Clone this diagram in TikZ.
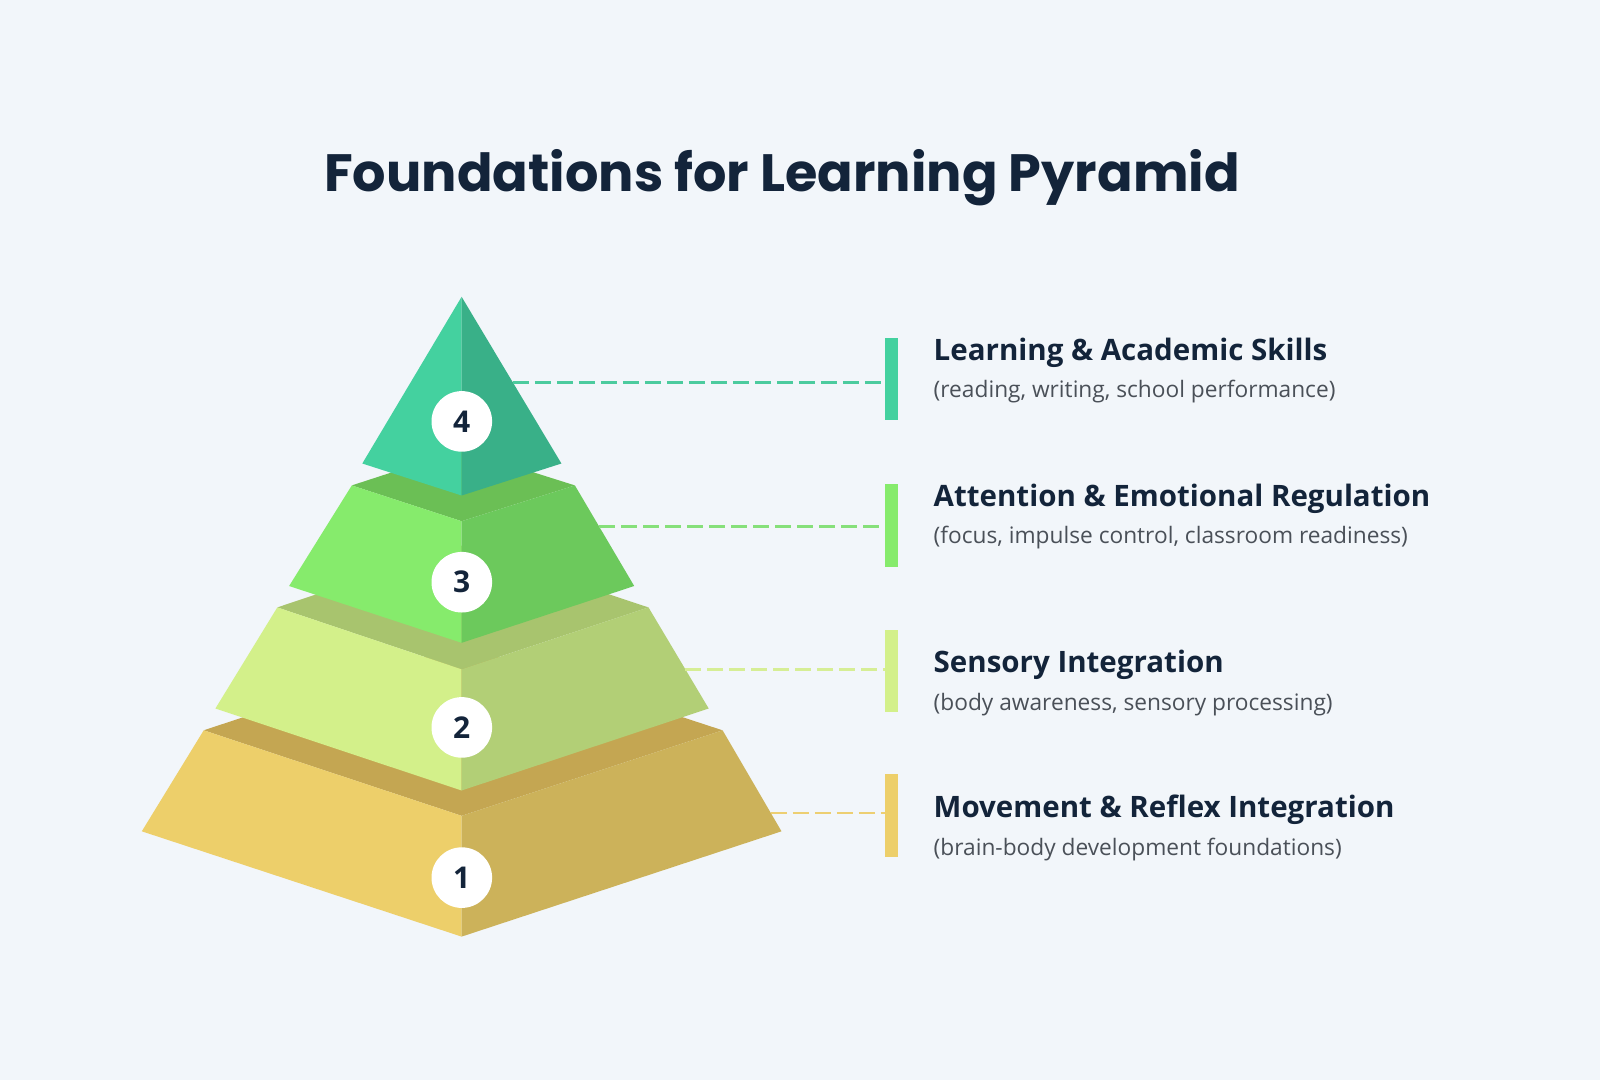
\documentclass[tikz,border=0pt]{standalone}
\usepackage{fontspec}
\setmainfont{Open Sans}
\newfontfamily\titlefont{Poppins}
\begin{document}
\begin{tikzpicture}[x=1pt,y=-1pt,
  numcirc/.style={circle,fill=white,minimum size=60.6pt,inner sep=0pt,font=\fontsize{30}{30}\selectfont\bfseries,text=navy},
  bar/.style={rectangle,minimum width=13.4pt,minimum height=82.6pt,inner sep=0pt,draw=none},
  conn/.style={line width=2.8pt,dash pattern=on 16pt off 6pt},
  head/.style={anchor=base west,inner sep=0pt,font=\fontsize{29.5}{32}\selectfont\bfseries,text=navy},
  sub/.style={anchor=base west,inner sep=0pt,font=\fontsize{22.7}{26}\selectfont,text=subgrey}]
\definecolor{bg}{HTML}{F2F6FA}
\definecolor{navy}{HTML}{13243A}
\definecolor{subgrey}{HTML}{4A5058}
\definecolor{fourL}{HTML}{44D19F}\definecolor{fourR}{HTML}{39B088}\definecolor{fourC}{HTML}{4CCB9E}
\definecolor{threeL}{HTML}{86EB6C}\definecolor{threeR}{HTML}{6CC95C}\definecolor{threeT}{HTML}{6BBF55}\definecolor{threeC}{HTML}{86E07A}
\definecolor{twoL}{HTML}{D3F08A}\definecolor{twoR}{HTML}{B2CF76}\definecolor{twoT}{HTML}{A8C46E}\definecolor{twoC}{HTML}{D6EE95}
\definecolor{oneL}{HTML}{EDCF6A}\definecolor{oneR}{HTML}{CCB25A}\definecolor{oneT}{HTML}{C4A652}\definecolor{oneC}{HTML}{EDCF72}
\fill[bg] (0,0) rectangle (1600,1080);
\useasboundingbox (0,0) rectangle (1600,1080);
% title
\node[anchor=base,inner sep=0pt,font=\titlefont\bfseries\fontsize{52.5}{56}\selectfont,text=navy] (title) at (782,191.8) {Foundations for Learning Pyramid};
% tier 1
\coordinate (T1l) at (203.7,730.3); \coordinate (T1f) at (461.6,815.8); \coordinate (T1r) at (722.6,730.3); \coordinate (T1b) at (461.6,644.8);
\coordinate (B1l) at (141.8,831.3); \coordinate (B1f) at (461.6,936.6); \coordinate (B1r) at (781.5,831.3);
\fill[oneT] (T1l) -- (T1f) -- (T1r) -- (T1b) -- cycle;
\fill[oneL] (T1l) -- (T1f) -- (B1f) -- (B1l) -- cycle;
\fill[oneR] (T1r) -- (T1f) -- (B1f) -- (B1r) -- cycle;
% tier 2
\coordinate (T2l) at (277.3,607.4); \coordinate (T2f) at (461.6,669.3); \coordinate (T2r) at (648.5,607.4); \coordinate (T2b) at (461.6,545.5);
\coordinate (B2l) at (215.4,708.5); \coordinate (B2f) at (461.6,790.5); \coordinate (B2r) at (708.7,708.5);
\fill[twoT] (T2l) -- (T2f) -- (T2r) -- (T2b) -- cycle;
\fill[twoL] (T2l) -- (T2f) -- (B2f) -- (B2l) -- cycle;
\fill[twoR] (T2r) -- (T2f) -- (B2f) -- (B2r) -- cycle;
% tier 3
\coordinate (T3l) at (351.8,485.4); \coordinate (T3f) at (461.6,521.2); \coordinate (T3r) at (574.9,485.4); \coordinate (T3b) at (461.6,449.6);
\coordinate (B3l) at (289.1,586); \coordinate (B3f) at (461.6,642.8); \coordinate (B3r) at (634.2,586);
\fill[threeT] (T3l) -- (T3f) -- (T3r) -- (T3b) -- cycle;
\fill[threeL] (T3l) -- (T3f) -- (B3f) -- (B3l) -- cycle;
\fill[threeR] (T3r) -- (T3f) -- (B3f) -- (B3r) -- cycle;
% tier 4
\coordinate (A4) at (461.6,296.8); \coordinate (B4l) at (362.3,463.5); \coordinate (B4f) at (461.6,495.5); \coordinate (B4r) at (561.4,463.5);
\fill[fourL] (A4) -- (B4l) -- (B4f) -- cycle;
\fill[fourR] (A4) -- (B4r) -- (B4f) -- cycle;
% number circles
\node[numcirc] (n4) at (461.8,421.4) {4};
\node[numcirc] (n3) at (461.8,582.2) {3};
\node[numcirc] (n2) at (461.8,727.4) {2};
\node[numcirc] (n1) at (461.8,877.6) {1};
% bars
\node[bar,fill=fourL] (bar4) at (891.4,379.1) {};
\node[bar,fill=threeL] (bar3) at (891.4,525.5) {};
\node[bar,fill=twoL] (bar2) at (891.4,670.9) {};
\node[bar,fill=oneL] (bar1) at (891.4,815.3) {};
% connector start points on right edges
\path (A4) -- (B4r) coordinate[pos=0.513] (d4);
\path (T3r) -- (B3r) coordinate[pos=0.408] (d3);
\path (T2r) -- (B2r) coordinate[pos=0.613] (d2);
\path (T1r) -- (B1r) coordinate[pos=0.818] (d1);
\draw[conn,fourC] (d4) -- (d4 -| bar4.west);
\draw[conn,threeC] (d3) -- (d3 -| bar3.west);
\draw[conn,twoC] (d2) -- (d2 -| bar2.west);
\draw[conn,oneC] (d1) -- (d1 -| bar1.west);
% labels
\node[head] (h4) at (933.5,360) {Learning \& Academic Skills};
\node[sub] (s4) at (933.5,397.5) {(reading, writing, school performance)};
\node[head] (h3) at (933.5,506) {Attention \& Emotional Regulation};
\node[sub] (s3) at (933.5,543) {(focus, impulse control, classroom readiness)};
\node[head] (h2) at (933.5,672) {Sensory Integration};
\node[sub] (s2) at (933.5,710) {(body awareness, sensory processing)};
\node[head] (h1) at (933.5,817.5) {Movement \& Reflex Integration};
\node[sub] (s1) at (933.5,855.5) {(brain-body development foundations)};
\end{tikzpicture}
\end{document}
